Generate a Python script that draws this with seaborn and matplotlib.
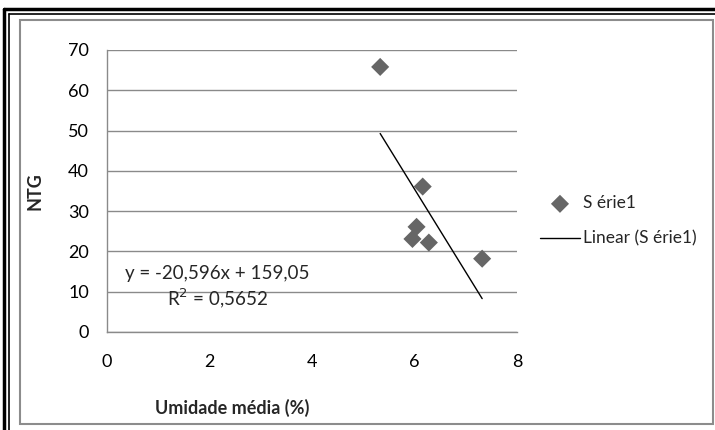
import numpy as np
import matplotlib
matplotlib.use("Agg")
import matplotlib.pyplot as plt
import seaborn as sns
from matplotlib.lines import Line2D
from matplotlib.patches import Rectangle

# data
umidade = [5.33, 6.16, 6.04, 5.96, 6.28, 7.32]
ntg = [65.8, 36.1, 26.1, 23.1, 22.2, 18.2]
slope, intercept = -20.596, 159.05
r2 = 0.5652
x_ticks = [0, 2, 4, 6, 8]
y_ticks = [0, 10, 20, 30, 40, 50, 60, 70]

sns.set_style("white")
plt.rcParams['font.family'] = ['Lato', 'DejaVu Sans']

W, H = 715, 430
fig = plt.figure(figsize=(W / 100, H / 100), dpi=100)
ax = fig.add_axes([107 / W, 1 - 332 / H, 410 / W, 282 / H])

gray = "#8a8a8a"
sns.scatterplot(x=umidade, y=ntg, marker="D", s=85, color="#666666",
                edgecolor="none", ax=ax, label="S érie1", zorder=3)

# linear trendline over the data range
xl = np.array([min(umidade), max(umidade)])
sns.lineplot(x=xl, y=slope * xl + intercept, color="black", lw=1,
             ax=ax, label="Linear (S érie1)", zorder=2)

ax.set_xlim(0, 8)
ax.set_ylim(0, 70)
ax.set_xticks(x_ticks)
ax.set_yticks(y_ticks)
ax.yaxis.grid(True, color=gray, lw=1)
ax.xaxis.grid(False)
for side in ["top", "right"]:
    ax.spines[side].set_visible(False)
for side in ["left", "bottom"]:
    ax.spines[side].set_color(gray)
    ax.spines[side].set_linewidth(1)
ax.tick_params(axis="both", direction="out", length=5, width=1, color=gray,
               labelsize=13, labelcolor="black")
ax.tick_params(axis="x", pad=11)
ax.tick_params(axis="y", pad=8)

ax.set_xlabel("Umidade média (%)", fontsize=13, fontweight="bold")
ax.xaxis.set_label_coords((232 - 107) / 410, -(399 - 332) / 282)
ax.set_ylabel("NTG", fontsize=13, fontweight="bold")
ax.yaxis.set_label_coords((43 - 107) / 410, 0.5)

ax.text(2.15, 14.6, "y = -20,596x + 159,05", fontsize=13.5, ha="center", va="center")
ax.text(2.15, 8.3, "R$^2$ = 0,5652", fontsize=13.5, ha="center", va="center")

leg = ax.legend(loc="center left", bbox_to_anchor=(540 / W, 1 - 221 / H),
                bbox_transform=fig.transFigure, frameon=False, fontsize=12.5,
                handlelength=2.3, handletextpad=0.15, labelspacing=1.1,
                borderpad=0, borderaxespad=0)

# chart area frame and outer double border
fig.patches.append(Rectangle((20 / W, 1 - 424 / H), 693 / W, 404 / H,
                             transform=fig.transFigure, fill=False,
                             edgecolor="#8c8c8c", lw=1.5))
fig.lines.append(Line2D([4 / W, 1], [1 - 9 / H, 1 - 9 / H], transform=fig.transFigure,
                        color="black", lw=2.5))
fig.lines.append(Line2D([9 / W, 1], [1 - 13.5 / H, 1 - 13.5 / H], transform=fig.transFigure,
                        color="black", lw=1.2))
fig.lines.append(Line2D([4 / W, 4 / W], [0, 1 - 9 / H], transform=fig.transFigure,
                        color="black", lw=2.5))
fig.lines.append(Line2D([9 / W, 9 / W], [0, 1 - 13.5 / H], transform=fig.transFigure,
                        color="black", lw=1.2))

fig.savefig("out.png", dpi=100)
